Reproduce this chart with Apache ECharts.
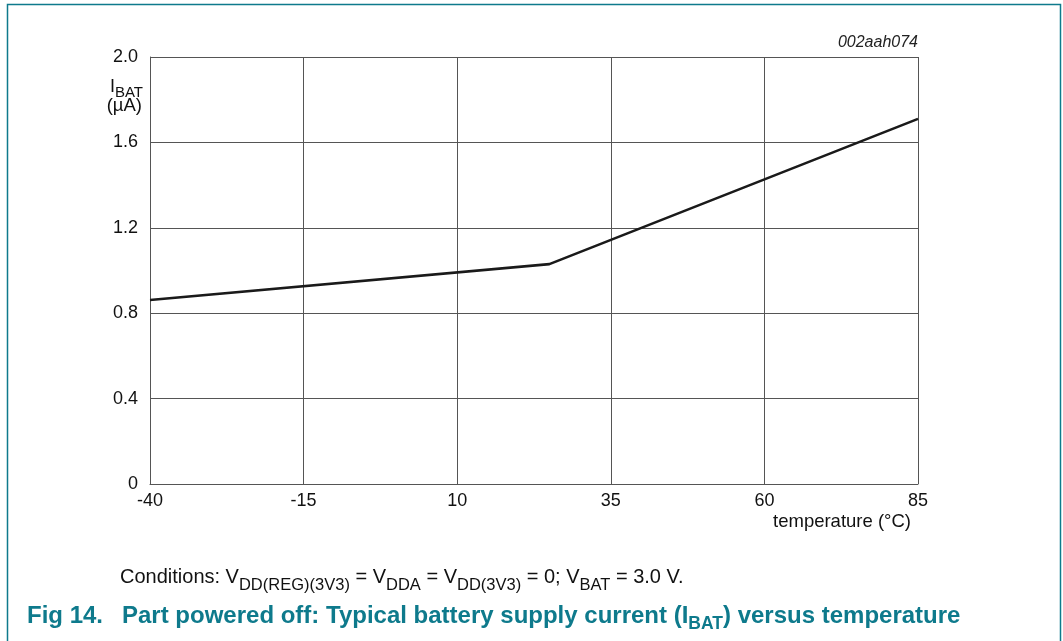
<!DOCTYPE html>
<html>
<head>
<meta charset="utf-8">
<script src="https://cdn.jsdelivr.net/npm/echarts@6/dist/echarts.min.js"></script>
<style>html,body{margin:0;padding:0;background:#fff}#c{width:1063px;height:641px}</style>
</head>
<body>
<div id="c"></div>
<script>
const temperatures = [-40, 25, 85];
const currents = [0.862, 1.03, 1.71];
const xTicks = [-40, -15, 10, 35, 60, 85];
const yTicks = [0, 0.4, 0.8, 1.2, 1.6, 2.0];

const chart = echarts.init(document.getElementById('c'));
const FONT = '"Liberation Sans", Arial, sans-serif';
const TEAL = '#0e7a8c';
const INK = '#111';
const lab = {fontFamily: FONT, fontSize: 18, fill: INK, lineHeight: 21, verticalAlign: 'top'};
const labS = {fontFamily: FONT, fontSize: 15, fill: INK, lineHeight: 15, padding: [7, 0, 0, 0], verticalAlign: 'top'};
const cond = {fontFamily: FONT, fontSize: 20, fill: INK, lineHeight: 24, verticalAlign: 'top'};
const condS = {fontFamily: FONT, fontSize: 16.5, fill: INK, lineHeight: 16.5, padding: [10, 0, 0, 0], verticalAlign: 'top'};
const capB = {fontFamily: FONT, fontSize: 24, fontWeight: 'bold', fill: TEAL, lineHeight: 27, verticalAlign: 'top'};
const capS = {fontFamily: FONT, fontSize: 17.5, fontWeight: 'bold', fill: TEAL, lineHeight: 17.5, padding: [11, 0, 0, 0], verticalAlign: 'top'};

chart.setOption({
  animation: false,
  backgroundColor: '#fff',
  grid: {left: 150, top: 57, width: 768, height: 427, containLabel: false},
  xAxis: {
    type: 'value', min: -40, max: 85, interval: 25,
    axisLine: {show: true, onZero: false, lineStyle: {color: '#555', width: 1}},
    axisTick: {show: false},
    splitLine: {show: true, lineStyle: {color: '#555', width: 1}},
    axisLabel: {color: INK, fontFamily: FONT, fontSize: 18, margin: 8,
      formatter: v => xTicks.includes(v) ? String(v) : ''}
  },
  yAxis: {
    type: 'value', min: 0, max: 2.0, interval: 0.4,
    axisLine: {show: true, onZero: false, lineStyle: {color: '#555', width: 1}},
    axisTick: {show: false},
    splitLine: {show: true, lineStyle: {color: '#555', width: 1}},
    axisLabel: {color: INK, fontFamily: FONT, fontSize: 18, margin: 12,
      formatter: v => { const t = yTicks.find(y => Math.abs(y - v) < 1e-6); return t === undefined ? '' : (t === 0 ? '0' : t.toFixed(1)); }}
  },
  series: [{
    type: 'line',
    data: temperatures.map((t, i) => [t, currents[i]]),
    showSymbol: false,
    lineStyle: {color: '#1a1a1a', width: 2.6},
    z: 5
  }],
  graphic: [
    {type: 'rect', shape: {x: 7.5, y: 4.5, width: 1053, height: 700}, style: {fill: 'none', stroke: TEAL, lineWidth: 1.5}, silent: true},
    {type: 'text', x: 918, y: 35, style: {text: '002aah074', font: 'italic 16px ' + FONT, fill: '#222', textAlign: 'right'}},
    {type: 'text', x: 143, y: 78, style: {text: '{b|I}{s|BAT}', textAlign: 'right', rich: {b: lab, s: labS}}},
    {type: 'text', x: 142, y: 96, style: {text: '(µA)', textAlign: 'right', font: '18.5px ' + FONT, fill: INK}},
    {type: 'text', x: 911, y: 512, style: {text: 'temperature (°C)', textAlign: 'right', font: '18.5px ' + FONT, fill: INK}},
    {type: 'text', x: 120, y: 567, style: {
      text: '{b|Conditions: V}{s|DD(REG)(3V3)}{b| = V}{s|DDA}{b| = V}{s|DD(3V3)}{b| = 0; V}{s|BAT}{b| = 3.0 V.}',
      rich: {b: cond, s: condS}}},
    {type: 'text', x: 27, y: 604, style: {text: '{b|Fig 14.}', rich: {b: capB}}},
    {type: 'text', x: 122, y: 604, style: {
      text: '{b|Part powered off: Typical battery supply current (I}{s|BAT}{b|) versus temperature}',
      rich: {b: capB, s: capS}}}
  ]
});
</script>
</body>
</html>
